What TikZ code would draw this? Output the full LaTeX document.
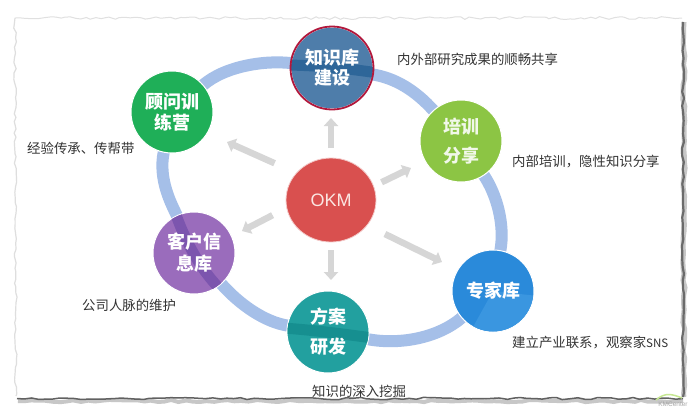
\documentclass[tikz,border=0pt]{standalone}
\usepackage{fontspec}
\setmainfont{Noto Sans CJK SC}
\newfontfamily\latinf{Liberation Sans}
\usetikzlibrary{arrows.meta,shapes.geometric,decorations.pathmorphing,backgrounds}
\pgfmathsetseed{11}
\definecolor{ringblue}{HTML}{A5BFE8}
\definecolor{arrowgray}{HTML}{D6D6D6}
\definecolor{cTop}{HTML}{4E7DAA}
\definecolor{cTopBand}{HTML}{2E6699}
\definecolor{cTopEdge}{HTML}{B2183C}
\definecolor{cGreen}{HTML}{1FAF58}
\definecolor{cLime}{HTML}{8CC544}
\definecolor{cBlue}{HTML}{2A8ADA}
\definecolor{cBlueFacet}{HTML}{3A96E0}
\definecolor{cTeal}{HTML}{22A09F}
\definecolor{cTealBand}{HTML}{168F90}
\definecolor{cPurple}{HTML}{9A6CBC}
\definecolor{cPurpleBand}{HTML}{7C55AE}
\definecolor{cRed}{HTML}{D9504F}
\definecolor{cOkmText}{HTML}{FBE6E2}
\tikzset{
  hub/.style={circle,minimum size=82pt,inner sep=0pt,outer sep=0pt,draw=white,line width=1pt},
  hubtext/.style={inner sep=0pt,align=center,text=white,font=\fontsize{18}{#1}\selectfont\bfseries},
  note/.style={anchor=west,inner sep=0pt,text=black!80,font=\fontsize{13.4}{15}\selectfont},
  ring/.style={draw=ringblue,line width=12pt},
  band/.style={line width=11pt},
  spoke/.style={draw=arrowgray,line width=6.5pt,-{Triangle[length=8pt,width=14pt]}},
  torn/.style={decorate,decoration={random steps,segment length=7pt,amplitude=1.1pt}},
  tornfine/.style={decorate,decoration={random steps,segment length=5pt,amplitude=1.4pt}}
}
\begin{document}
\begin{tikzpicture}[x=1pt,y=-1pt]
\useasboundingbox (0,0) rectangle (700,416);

% torn paper edges: top, left, right
\draw[black!12,line width=1pt,tornfine] (15,18) -- (682,18);
\draw[black!13,line width=1.2pt,tornfine] (15,18) -- (16,396);
\draw[black!22,line width=5pt,torn] (684,22) -- (684,397);
\draw[black!58,line width=2.2pt,torn] (683,22) -- (683,397);

% hubs: discs
\node[hub,fill=cTop] (know) at (332,68) {};
\begin{scope}
\clip (know.center) circle [radius=41pt];
\draw[band,cTopBand] (280,65) .. controls (315,65) and (345,68) .. (385,74);
\end{scope}
\draw[cTopEdge,line width=1.8pt] (know.center) circle [radius=41.5pt];

\node[hub,fill=cGreen] (coach) at (172,112) {};
\node[hub,fill=cLime] (share) at (461,141) {};

\node[hub,fill=cBlue] (expert) at (493,291) {};
\begin{scope}
\clip (expert.center) circle [radius=40.5pt];
\fill[cBlueFacet] (493,291) -- (468,336) -- (538,336) -- (538,296) -- cycle;
\end{scope}

\node[hub,fill=cTeal] (plan) at (328,332) {};
\begin{scope}
\clip (plan.center) circle [radius=40.5pt];
\draw[band,cTealBand] (283,328) .. controls (313,330) and (343,334) .. (373,338);
\end{scope}

\node[hub,fill=cPurple] (client) at (194,253) {};
\begin{scope}
\clip (client.center) circle [radius=40.5pt];
\draw[band,cPurpleBand] (175,212) .. controls (184,238) and (199,268) .. (220,289);
\end{scope}

\node[ellipse,minimum width=90pt,minimum height=84pt,inner sep=0pt,outer sep=0pt,fill=cRed,draw=white!70!cRed,line width=.8pt,text=cOkmText,font=\latinf\fontsize{18}{20}\selectfont] (okm) at (331,200) {OKM};

% hubs: texts
\node[hubtext=20] (knowT) at (know) {知识库\\建设};
\node[hubtext=21] (coachT) at (coach) {顾问训\\练营};
\node[hubtext=29,text=white!88!cLime] (shareT) at (share) {培训\\分享};
\node[hubtext=20] (expertT) at (expert) {专家库};
\node[hubtext=30] (planT) at (plan) {方案\\研发};
\node[hubtext=22] (clientT) at (client) {客户信\\息库};

% ring behind the hubs
\begin{scope}[on background layer]
\fill[white] (0,0) rectangle (700,416);
\draw[ring] (coach) .. controls (225,66) and (265,60) .. (know);
\draw[ring] (know) .. controls (395,78) and (415,90) .. (share);
\draw[ring] (share) .. controls (497,195) and (505,225) .. (expert);
\draw[ring] (expert) .. controls (438,338) and (400,345) .. (plan);
\draw[ring] (plan) .. controls (265,322) and (240,305) .. (client);
\draw[ring] (client) .. controls (172,205) and (158,180) .. (coach);
\end{scope}

% spokes
\coordinate (tipKnow) at (331,118);
\coordinate (tipShare) at (411,168);
\coordinate (tipExpert) at (442,262);
\coordinate (tipPlan) at (331,280);
\coordinate (tipClient) at (242,231);
\coordinate (tipCoach) at (227,142);
\draw[spoke,shorten <=10pt] (okm.90) -- (tipKnow);
\draw[spoke,shorten <=9pt] (okm.18) -- (tipShare);
\draw[spoke,shorten <=20pt] (okm.325) -- (tipExpert);
\draw[spoke,shorten <=8pt] (okm.270) -- (tipPlan);
\draw[spoke,shorten <=16pt] (okm.190) -- (tipClient);
\draw[spoke,shorten <=24pt] (okm.142) -- (tipCoach);

% notes
\node[note] (n1) at (397,59) {内外部研究成果的顺畅共享};
\node[note] (n2) at (512,162) {内部培训，隐性知识分享};
\node[note] (n3) at (512,343) {建立产业联系，观察家{\fontsize{11.5}{15}\selectfont SNS}};
\node[note] (n4) at (82,305) {公司人脉的维护};
\node[note] (n5) at (27,148) {经验传承、传帮带};
\begin{scope}
\clip (300,375) rectangle (420,396);
\node[note] (n6) at (312,391) {知识的深入挖掘};
\end{scope}

% bottom edge and watermark
\draw[black!22,line width=4pt,torn] (18,401) -- (683,401);
\draw[black!62,line width=1.5pt,torn] (17,398.5) -- (683,398.5);
\draw[yellow!50!green!45,line width=1.5pt] (656,400) .. controls (665,392) and (672,394) .. (682,398);
\node[inner sep=0pt,text=black!35,font=\latinf\fontsize{6.5}{7}\selectfont] (mark) at (673,404) {KMCenter};
\end{tikzpicture}
\end{document}
